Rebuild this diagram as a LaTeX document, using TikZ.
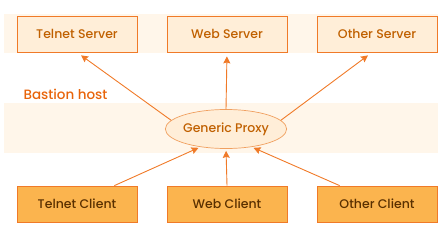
\documentclass[tikz,border=0pt]{standalone}
\usepackage{fontspec}
\setmainfont{Poppins Medium}
\usetikzlibrary{arrows.meta, shapes.geometric}

\definecolor{bandc}{HTML}{FFF6EA}
\definecolor{edgec}{HTML}{F07A28}
\definecolor{servfill}{HTML}{FFEED8}
\definecolor{servtext}{HTML}{C06000}
\definecolor{clifill}{HTML}{FBB44E}
\definecolor{clitext}{HTML}{5A3000}
\definecolor{hosttext}{HTML}{E8640A}
\definecolor{ellc}{HTML}{F0A060}

\begin{document}
\begin{tikzpicture}[x=1pt, y=-1pt, font=\fontsize{12.5}{14}\selectfont,
  serverbox/.style={rectangle, draw=edgec, fill=servfill, text=servtext, line width=0.8pt,
    minimum width=120pt, minimum height=36pt, inner sep=0pt},
  clientbox/.style={rectangle, draw=edgec, fill=clifill, text=clitext, line width=0.8pt,
    minimum width=120pt, minimum height=36pt, inner sep=0pt},
  proxyn/.style={ellipse, draw=ellc, fill=servfill, text=servtext, line width=0.7pt,
    minimum width=121pt, minimum height=39pt, inner sep=0pt},
  link/.style={draw=edgec, line width=0.9pt, -{Stealth[length=7pt, width=7pt, inset=1pt]}}
]
  \useasboundingbox (0,0) rectangle (443,230);
  % shaded bands
  \fill[bandc] (4,14) rectangle (438,53);
  \fill[bandc] (4,103) rectangle (438,153);
  \node[serverbox] (TS) at (77,34)  {Telnet Server};
  \node[serverbox] (WS) at (227,34) {Web Server};
  \node[serverbox] (OS) at (377,34) {Other Server};
  \node[anchor=west, text=hosttext, font=\fontsize{13.5}{15}\selectfont] (BH) at (20,94) {Bastion host};
  \node[proxyn]    (GP) at (226,129) {Generic Proxy};
  \node[clientbox] (TC) at (77,204)  {Telnet Client};
  \node[clientbox] (WC) at (227,204) {Web Client};
  \node[clientbox] (OC) at (377,204) {Other Client};
  % proxy to servers
  \draw[link, shorten >=5pt] (GP.171) -- (TS.south);
  \draw[link, shorten >=4pt] (GP.north) -- (WS.south);
  \draw[link, shorten >=5pt] (GP.9) -- ([xshift=-5pt]OS.south);
  % clients to proxy
  \draw[link, shorten >=2pt] ([xshift=-23pt]TC.north east) -- (GP.215);
  \draw[link, shorten >=2pt] (WC.north) -- (GP.south);
  \draw[link, shorten >=2pt] ([xshift=23pt]OC.north west) -- (GP.325);
\end{tikzpicture}
\end{document}
